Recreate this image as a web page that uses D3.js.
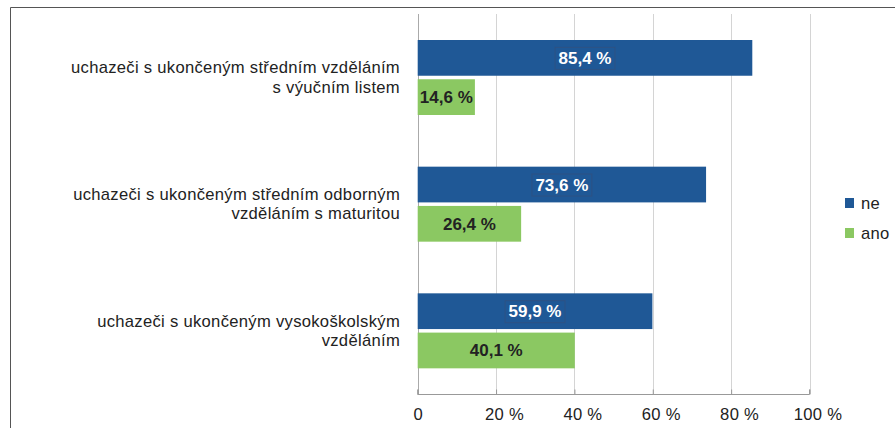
<!DOCTYPE html>
<html><head><meta charset="utf-8">
<script src="https://cdn.jsdelivr.net/npm/d3@7"></script>
<style>body{margin:0;background:#fff;} svg{display:block;font-family:"Liberation Sans",Arial,sans-serif;}</style>
</head><body>
<svg id="c" width="895" height="428"></svg>
<script>
const categories = [
  ["uchazeči s ukončeným středním vzděláním", "s výučním listem"],
  ["uchazeči s ukončeným středním odborným", "vzděláním s maturitou"],
  ["uchazeči s ukončeným vysokoškolským", "vzděláním"]
];
const seriesNames = ["ne", "ano"];
const neValues = [85.4, 73.6, 59.9];
const anoValues = [14.6, 26.4, 40.1];
const tickValues = [0, 20, 40, 60, 80, 100];
const colors = {ne: "#1f5896", ano: "#8bc862"};
const fs = 16.6, fsb = 17;

const svg = d3.select("#c");
// frame
svg.append("path").attr("d", "M10.5,428 L10.5,7.5 L895,7.5").attr("fill","none").attr("stroke","#555").attr("stroke-width",1);

const x = d3.scaleLinear().domain([0,100]).range([417.7, 809.5]);
const y = d3.scaleBand().domain(d3.range(categories.length)).range([14, 394]);
const inner = d3.scaleBand().domain(seriesNames).range([26, 101]).paddingInner(0.09);

// gridlines
svg.append("g").selectAll("line").data(tickValues).join("line")
  .attr("x1", d => Math.round(x(d))+0.5).attr("x2", d => Math.round(x(d))+0.5)
  .attr("y1", 14).attr("y2", 394)
  .attr("stroke", d => d===0 ? "#aaa" : "#d4d4d4").attr("stroke-width", 1);

// axis
const axis = d3.axisBottom(x).tickValues(tickValues).tickSize(-5).tickFormat(d => d===0 ? "0" : d + " %").tickPadding(14);
const ag = svg.append("g").attr("transform","translate(0,394.5)").call(axis);
ag.select(".domain").attr("stroke","#999").attr("d", `M${x(0)},-5V0H${x(100)}V-5`);
ag.selectAll(".tick line").attr("stroke","#999");
ag.selectAll(".tick text").attr("font-size", fs).attr("fill","#222").attr("letter-spacing", 0.3)
  .attr("dx", d => d===0 ? 0 : 8)
  .attr("font-family","Liberation Sans, Arial, sans-serif");

const data = categories.map((c,i) => ({cat:c, i, ne:neValues[i], ano:anoValues[i]}));

const groups = svg.append("g").selectAll("g").data(data).join("g")
  .attr("transform", d => `translate(0,${y(d.i)})`);

seriesNames.forEach(s => {
  groups.append("rect")
    .attr("x", x(0)).attr("y", inner(s))
    .attr("width", d => x(d[s]) - x(0)).attr("height", inner.bandwidth())
    .attr("fill", colors[s]);
  const t = groups.append("text")
    .attr("x", d => (x(0) + x(d[s]))/2).attr("y", inner(s) + inner.bandwidth()/2 + 6)
    .attr("text-anchor","middle").attr("font-size",fsb).attr("font-weight","bold")
    .attr("fill", s === "ne" ? "#fff" : "#222")
    .text(d => d3.format(".1f")(d[s]).replace(".", ",") + " %");
  if (s === "ne") {
    t.each(function(){
      const b = this.getBBox();
      d3.select(this.parentNode).insert("rect", () => this)
        .attr("x", b.x-3.5).attr("y", b.y-1.5).attr("width", b.width+7).attr("height", b.height+3)
        .attr("fill","none").attr("stroke","#2d5284").attr("stroke-width",1);
    });
  }
});

// category labels
groups.each(function(d){
  const g = d3.select(this);
  const cy = inner("ne") + (inner("ano") + inner.bandwidth() - inner("ne"))/2;
  const lines = d.cat;
  const lh = 19.5;
  lines.forEach((ln, k) => {
    g.append("text").attr("x", 400).attr("y", cy + 5.5 + (k - (lines.length-1)/2)*lh)
      .attr("text-anchor","end").attr("font-size",fs).attr("letter-spacing",0.3).attr("fill","#222").text(ln);
  });
});

// legend
const lg = svg.append("g").attr("transform","translate(845,198)");
seriesNames.forEach((s,k) => {
  lg.append("rect").attr("x",0).attr("y",k*30).attr("width",9).attr("height",10).attr("fill",colors[s]);
  lg.append("text").attr("x",16).attr("y",k*30+10.5).attr("font-size",fs).attr("letter-spacing",0.3).attr("fill","#222").text(s);
});
</script>
</body></html>
